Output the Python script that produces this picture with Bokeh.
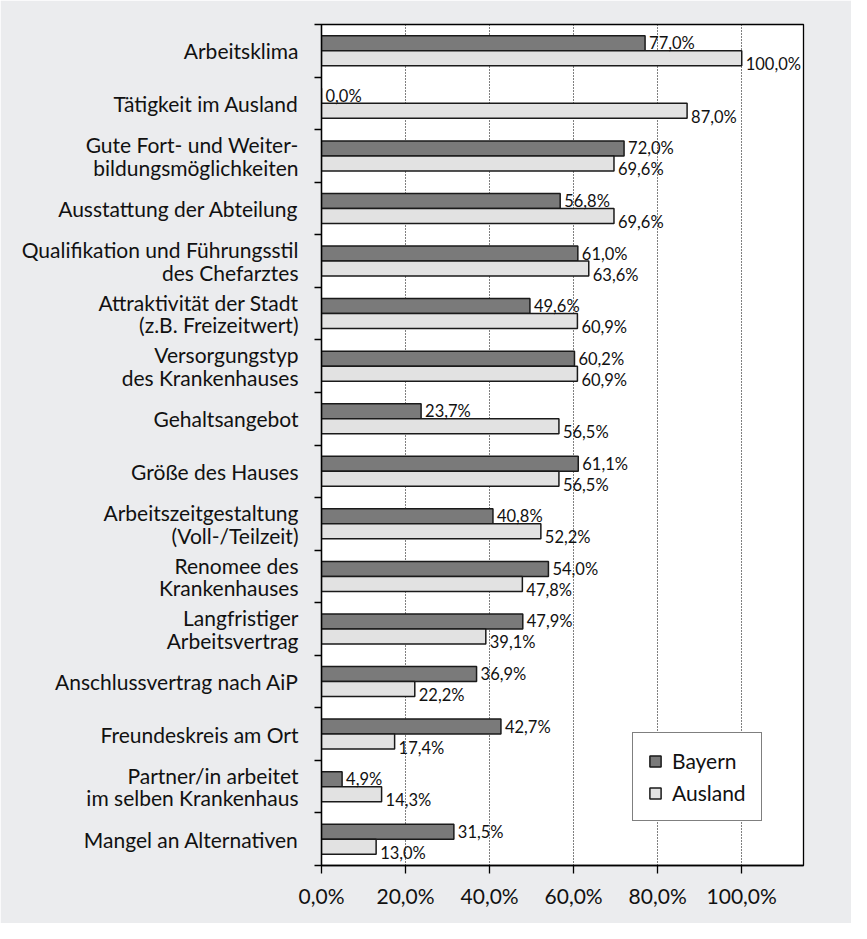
from bokeh.plotting import figure
from bokeh.models import (ColumnDataSource, FixedTicker, CustomJSTickFormatter,
                          LabelSet, Legend, LegendItem, Range1d)
from bokeh.core.properties import value
from bokeh.embed import file_html
from bokeh.resources import INLINE

categories = [
    "Arbeitsklima",
    "Tätigkeit im Ausland",
    "Gute Fort- und Weiter-\nbildungsmöglichkeiten",
    "Ausstattung der Abteilung",
    "Qualifikation und Führungsstil\ndes Chefarztes",
    "Attraktivität der Stadt\n(z.B. Freizeitwert)",
    "Versorgungstyp\ndes Krankenhauses",
    "Gehaltsangebot",
    "Größe des Hauses",
    "Arbeitszeitgestaltung\n(Voll-/Teilzeit)",
    "Renomee des\nKrankenhauses",
    "Langfristiger\nArbeitsvertrag",
    "Anschlussvertrag nach AiP",
    "Freundeskreis am Ort",
    "Partner/in arbeitet\nim selben Krankenhaus",
    "Mangel an Alternativen",
]
bayern = [77.0, 0.0, 72.0, 56.8, 61.0, 49.6, 60.2, 23.7, 61.1, 40.8, 54.0, 47.9, 36.9, 42.7, 4.9, 31.5]
ausland = [100.0, 87.0, 69.6, 69.6, 63.6, 60.9, 60.9, 56.5, 56.5, 52.2, 47.8, 39.1, 22.2, 17.4, 14.3, 13.0]
x_ticks = [0, 20, 40, 60, 80, 100]

n = len(categories)
centers = [n - i - 0.5 for i in range(n)]
bar_h = 0.285

def fmt(v):
    return ("%.1f" % v).replace(".", ",") + "%"

src_b = ColumnDataSource(dict(y=[c + bar_h / 2 for c in centers], x=bayern,
                              lbl=[fmt(v) for v in bayern]))
src_a = ColumnDataSource(dict(y=[c - bar_h / 2 for c in centers], x=ausland,
                              lbl=[fmt(v) for v in ausland]))

FONT = "Lato"
BG = "#ebecee"

p = figure(width=851, height=923, output_backend="svg", toolbar_location=None,
           x_range=Range1d(0, 114.7), y_range=Range1d(0, n),
           min_border_left=321, min_border_right=48, min_border_top=24, min_border_bottom=58)
p.background_fill_color = "white"
p.border_fill_color = BG
p.outline_line_color = "black"
p.outline_line_width = 1.3

# grid
p.ygrid.grid_line_color = None
p.xgrid.ticker = FixedTicker(ticks=[20, 40, 60, 80, 100])
p.xgrid.grid_line_color = "#000000"
p.xgrid.grid_line_dash = "1 2"
p.xgrid.grid_line_width = 1

rb = p.hbar(y="y", right="x", left=0, height=bar_h, source=src_b,
            fill_color="#7a7a7a", line_color="#1a1a1a", line_width=1.5)
ra = p.hbar(y="y", right="x", left=0, height=bar_h, source=src_a,
            fill_color="#e2e2e2", line_color="#1a1a1a", line_width=1.5)

lb = LabelSet(x="x", y="y", text="lbl", source=src_b, x_offset=4, y_offset=0,
              text_baseline="middle", text_align="left", text_font=value(FONT),
              text_font_size="16.5px", text_color="#111111")
la = LabelSet(x="x", y="y", text="lbl", source=src_a, x_offset=4, y_offset=-6,
              text_baseline="middle", text_align="left", text_font=value(FONT),
              text_font_size="16.5px", text_color="#111111")
p.add_layout(lb)
p.add_layout(la)

# x axis
xa = p.xaxis[0]
xa.ticker = FixedTicker(ticks=x_ticks)
xa.formatter = CustomJSTickFormatter(code="return tick.toFixed(1).replace('.', ',') + '%';")
xa.major_tick_out = 8
xa.major_tick_in = 0
xa.minor_tick_out = 0
xa.minor_tick_in = 0
xa.major_label_standoff = 9
xa.major_label_text_font = FONT
xa.major_label_text_font_size = "21px"
xa.major_label_text_color = "#111111"
xa.axis_line_color = "black"
xa.axis_line_width = 1.3
xa.major_tick_line_color = "black"
xa.major_tick_line_width = 1.3

# y axis
ya = p.yaxis[0]
ya.ticker = FixedTicker(ticks=centers, minor_ticks=list(range(0, n + 1)))
ya.formatter = CustomJSTickFormatter(args=dict(labels=categories, n=n),
                                     code="return labels[n - 1 - Math.floor(tick)];")
ya.major_tick_out = 0
ya.major_tick_in = 0
ya.minor_tick_out = 7
ya.minor_tick_in = 0
ya.minor_tick_line_color = "black"
ya.minor_tick_line_width = 1.3
ya.major_label_standoff = 16
ya.major_label_text_font = FONT
ya.major_label_text_font_size = "21px"
ya.major_label_text_color = "#111111"
ya.major_label_text_line_height = 0.9
ya.axis_line_color = "black"
ya.axis_line_width = 1.3

legend = Legend(items=[LegendItem(label="Bayern", renderers=[rb]),
                       LegendItem(label="Ausland", renderers=[ra])],
                location=(311, 44))
legend.label_text_font = FONT
legend.label_text_font_size = "21px"
legend.label_text_color = "#111111"
legend.glyph_width = 14
legend.glyph_height = 14
legend.spacing = 7
legend.padding = 15
legend.label_standoff = 10
legend.border_line_color = "black"
legend.border_line_width = 1.3
legend.background_fill_color = "white"
legend.background_fill_alpha = 1
legend.margin = 0
p.add_layout(legend)

open("out.html", "w").write(file_html(p, INLINE))
